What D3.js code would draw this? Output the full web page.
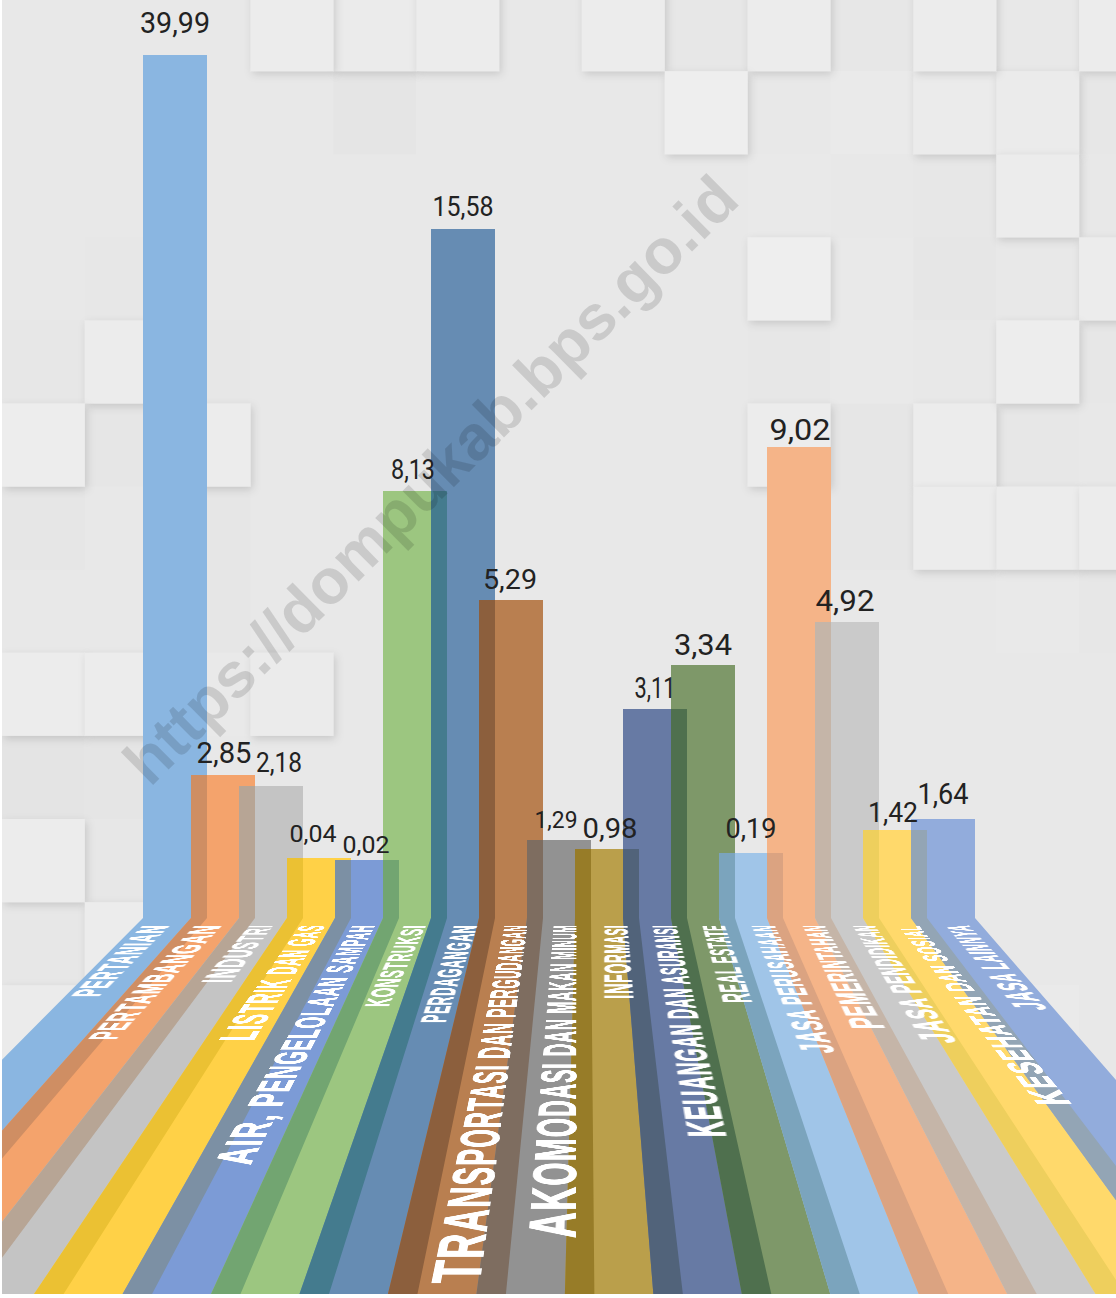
<!DOCTYPE html>
<html>
<head>
<meta charset="utf-8">
<script src="https://cdnjs.cloudflare.com/ajax/libs/d3/7.8.5/d3.min.js"></script>
<style>
html, body { margin: 0; padding: 0; background: #fff; }
#chart { position: relative; width: 1116px; height: 1298px; overflow: hidden; }
svg { position: absolute; left: 0; top: 0; }
.floor-label {
	position: absolute; left: 0; top: 0;
	font: bold 40px/40px "Liberation Sans Narrow", "Liberation Sans", sans-serif;
	-webkit-text-stroke: 1px #fff;
	letter-spacing: 2px;
	color: #fff; white-space: nowrap; transform-origin: 0 0;
}
</style>
</head>
<body>
<div id="chart"></div>
<script>
var categories = ["PERTANIAN", "PERTAMBANGAN", "INDUSTRI", "LISTRIK DAN GAS", "AIR, PENGELOLAAN SAMPAH",
	"KONSTRUKSI", "PERDAGANGAN", "TRANSPORTASI DAN PERGUDANGAN", "AKOMODASI DAN MAKAN MINUM", "INFORMASI",
	"KEUANGAN DAN ASURANSI", "REAL ESTATE", "JASA PERUSAHAAN", "PEMERINTAHAN", "JASA PENDIDIKAN",
	"KESEHATAN DAN SOSIAL", "JASA LAINNYA"];
var values = [39.99, 2.85, 2.18, 0.04, 0.02, 8.13, 15.58, 5.29, 1.29, 0.98, 3.11, 3.34, 0.19, 9.02, 4.92, 1.42, 1.64];

var colors = ["#8ab6e1", "#f4a36c", "#c4c4c4", "#ffd147", "#7c9bd6", "#9cc680", "#668cb3", "#b97f50", "#929292",
	"#ba9f4b", "#677aa4", "#7e9869", "#a0c5e8", "#f5b488", "#cacaca", "#ffd96b", "#92acdc"];
var overlapColors = [null, "#cf8e63", "#b7a595", "#ebc133", "#7c90a4", "#72a571", "#447b8e", "#8c5f3d", "#7e6d60",
	"#977c28", "#51637a", "#4f704e", "#7ba4bd", "#dba381", "#c5b5a8", "#eecf5d", "#93a5b5"];

// the bars in the picture are not drawn to one linear scale, so the height scale has a knot per reading
var heightKnots = [0, 0.02, 0.04, 0.19, 0.98, 1.29, 1.42, 1.64, 2.18, 2.85, 3.11, 3.34, 4.92, 5.29, 8.13, 9.02, 15.58, 39.99];
var heightRange = [0, 58, 60, 65, 69, 78, 88, 99, 132, 143, 209, 253, 296, 318, 427, 471, 689, 863];

// value label tweaks, same order as categories
var valueDx = [0, 1, 8, -6, -1, -2, 0, -1, -3, 3, 0, 0, 0, 1, -2, -2, 0];
var valueGap = [22, 12, 14, 16, 7, 12, 13, 11, 12, 11, 11, 10, 15, 7, 11, 8, 15];
var valueSize = [29, 29, 27, 23, 23, 28, 27, 28, 23, 27, 29, 29, 27, 29, 29, 27, 29];
var valueWidth = [70, 55, 46, 47, 47, 44, 61, 54, 43, 55, 41, 58, 51, 61, 59, 50, 51];

// floor label layout: x span of the label at its far end (y = labelTopY) and near end (y = labelEndY)
var labelTopY = 925;
var labelTop0 = [143, 195, 250, 300, 352, 404, 454, 504, 553, 604, 652, 702, 751, 802, 852, 897, 945];
var labelTop1 = [170, 222, 273, 325, 375, 426, 477, 527, 576, 627, 676, 724, 774, 824, 874, 918, 968];
var labelEndY = [997, 1040, 983, 1041, 1165, 1007, 1023, 1283, 1238, 999, 1137, 1003, 1053, 1029, 1043, 1105, 1010];
var labelEnd0 = [70, 87, 200, 217, 212, 364, 420, 430, 527, 604, 688, 723, 802, 852, 923, 1037, 1017];
var labelEnd1 = [98, 115, 230, 253, 250, 388, 445, 479, 575, 633, 726, 752, 835, 885, 957, 1072, 1048];

// background tiles: [column, row, grey], the light ones sit raised and throw a shadow
var tiles = [
	[3, 0, 236], [4, 0, 235], [5, 0, 236], [7, 0, 236], [8, 0, 231], [9, 0, 236], [10, 0, 231], [11, 0, 236], [12, 0, 232], [13, 0, 236],
	[4, 1, 229], [8, 1, 238], [9, 1, 232], [10, 1, 234], [11, 1, 235], [12, 1, 235], [13, 1, 231],
	[9, 2, 233], [10, 2, 232], [11, 2, 231], [12, 2, 236], [13, 2, 232],
	[0, 3, 232], [1, 3, 231], [9, 3, 238], [10, 3, 233], [11, 3, 230], [12, 3, 232], [13, 3, 236],
	[0, 4, 231], [1, 4, 236], [2, 4, 231], [9, 4, 231], [10, 4, 233], [11, 4, 232], [12, 4, 237], [13, 4, 231],
	[0, 5, 237], [1, 5, 230], [2, 5, 236], [9, 5, 236], [10, 5, 230], [11, 5, 236], [12, 5, 231], [13, 5, 232],
	[0, 6, 230], [1, 6, 232], [2, 6, 230], [10, 6, 230], [11, 6, 236], [12, 6, 236], [13, 6, 236],
	[2, 7, 230], [10, 7, 232], [11, 7, 232], [12, 7, 233], [13, 7, 231],
	[0, 8, 236], [1, 8, 236], [2, 8, 233], [3, 8, 235],
	[0, 9, 228], [1, 9, 229],
	[0, 10, 236], [1, 10, 231],
	[0, 11, 231], [1, 11, 236], [0, 12, 235], [12, 12, 234]
];
var tileX = 82.85, tileY = 83.1;

var width = 1116, height = 1298;
var floorBottom = 1294, baseY = 918;
var apexX = 587, apexY = 472;

var chart = d3.select("#chart");
var svg = chart.append("svg").attr("width", width).attr("height", height);
var defs = svg.append("defs");

defs.append("clipPath").attr("id", "plot").append("rect")
	.attr("x", 2).attr("y", 0).attr("width", width - 2).attr("height", floorBottom);

var shadow = defs.append("filter").attr("id", "tile-shadow")
	.attr("x", "-20%").attr("y", "-20%").attr("width", "140%").attr("height", "140%");
shadow.append("feDropShadow").attr("dx", 2).attr("dy", 3).attr("stdDeviation", 4)
	.attr("flood-color", "#000").attr("flood-opacity", 0.14);

var plot = svg.append("g").attr("clip-path", "url(#plot)");

plot.append("rect").attr("x", 0).attr("y", 0).attr("width", width).attr("height", height).attr("fill", "#e8e8e8");

plot.selectAll(".tile").data(tiles.slice().sort(function(a, b) { return a[2] - b[2]; })).enter().append("rect")
	.attr("class", "tile")
	.attr("x", function(d) { return 2 + d[0] * tileX; })
	.attr("y", function(d) { return d[1] * tileY - 12; })
	.attr("width", tileX)
	.attr("height", tileY)
	.attr("fill", function(d) { return d3.rgb(d[2], d[2], d[2]); })
	.attr("filter", function(d) { return d[2] >= 235 ? "url(#tile-shadow)" : null; });

var x = d3.scaleBand().domain(d3.range(categories.length)).range([143, 143 + 48 * categories.length]);
var barWidth = x.bandwidth() * 4 / 3;
var barHeight = d3.scaleLinear().domain(heightKnots).range(heightRange);
var barTop = function(i) { return baseY - barHeight(values[i]); };

// where a bar edge lands on the floor, everything runs away from one point
function floorX(x0, y) {
	return apexX + (x0 - apexX) * (y - apexY) / (baseY - apexY);
}

var line = d3.line();

function ribbon(x0, x1, top) {
	return line([[x0, top], [x1, top], [x1, baseY], [floorX(x1, floorBottom), floorBottom],
		[floorX(x0, floorBottom), floorBottom], [x0, baseY]]) + "Z";
}

var bars = plot.selectAll(".bar").data(values).enter().append("g").attr("class", "bar");

bars.append("path")
	.attr("fill", function(d, i) { return colors[i]; })
	.attr("d", function(d, i) { return ribbon(x(i), x(i) + barWidth, barTop(i)); });

bars.filter(function(d, i) { return i > 0; }).append("path")
	.attr("fill", function(d, i) { return overlapColors[i + 1]; })
	.attr("d", function(d, i) {
		var n = i + 1;
		return ribbon(x(n), x(n - 1) + barWidth, Math.max(barTop(n), barTop(n - 1)));
	});

plot.append("text")
	.attr("transform", "translate(150,788) rotate(-44.7)")
	.attr("font-family", "Liberation Sans, Arial, sans-serif")
	.attr("font-weight", "bold")
	.attr("font-size", 63.5)
	.attr("fill", "#000")
	.attr("fill-opacity", 0.13)
	.text("https://dompukab.bps.go.id");

svg.selectAll(".value").data(values).enter().append("text")
	.attr("class", "value")
	.attr("text-anchor", "middle")
	.attr("font-family", "Roboto, sans-serif")
	.attr("fill", "#222")
	.attr("font-size", function(d, i) { return valueSize[i]; })
	.attr("textLength", function(d, i) { return valueWidth[i]; })
	.attr("lengthAdjust", "spacingAndGlyphs")
	.attr("x", function(d, i) { return x(i) + barWidth / 2 + valueDx[i]; })
	.attr("y", function(d, i) { return barTop(i) - valueGap[i]; })
	.text(function(d) { return d3.format(".2f")(d).replace(".", ","); });

// square-to-quad homography, so the label lies flat on the floor
function floorMatrix(q, w, h, v0) {
	var dx1 = q[1][0] - q[2][0], dx2 = q[3][0] - q[2][0], sx = q[0][0] - q[1][0] + q[2][0] - q[3][0];
	var dy1 = q[1][1] - q[2][1], dy2 = q[3][1] - q[2][1], sy = q[0][1] - q[1][1] + q[2][1] - q[3][1];
	var den = dx1 * dy2 - dx2 * dy1;
	var g = (sx * dy2 - dx2 * sy) / den, k = (dx1 * sy - sx * dy1) / den;
	var a = q[1][0] - q[0][0] + g * q[1][0], b = q[3][0] - q[0][0] + k * q[3][0];
	var d = q[1][1] - q[0][1] + g * q[1][1], e = q[3][1] - q[0][1] + k * q[3][1];
	return "matrix3d(" + [a / w, d / w, 0, g / w, b / h, e / h, 0, k / h, 0, 0, 1, 0,
		q[0][0] - b * v0 / h, q[0][1] - e * v0 / h, 0, 1 - k * v0 / h].join(",") + ")";
}

// cap height box inside the 40px line
var capTop = 5.2, capHeight = 28.7;

chart.selectAll(".floor-label").data(categories).enter().append("div")
	.attr("class", "floor-label")
	.text(function(d) { return d; })
	.each(function(d, i) {
		var w = this.offsetWidth;
		var quad = [[labelEnd0[i], labelEndY[i]], [labelTop0[i], labelTopY], [labelTop1[i], labelTopY], [labelEnd1[i], labelEndY[i]]];
		d3.select(this).style("transform", floorMatrix(quad, w, capHeight, capTop));
	});
</script>
</body>
</html>
